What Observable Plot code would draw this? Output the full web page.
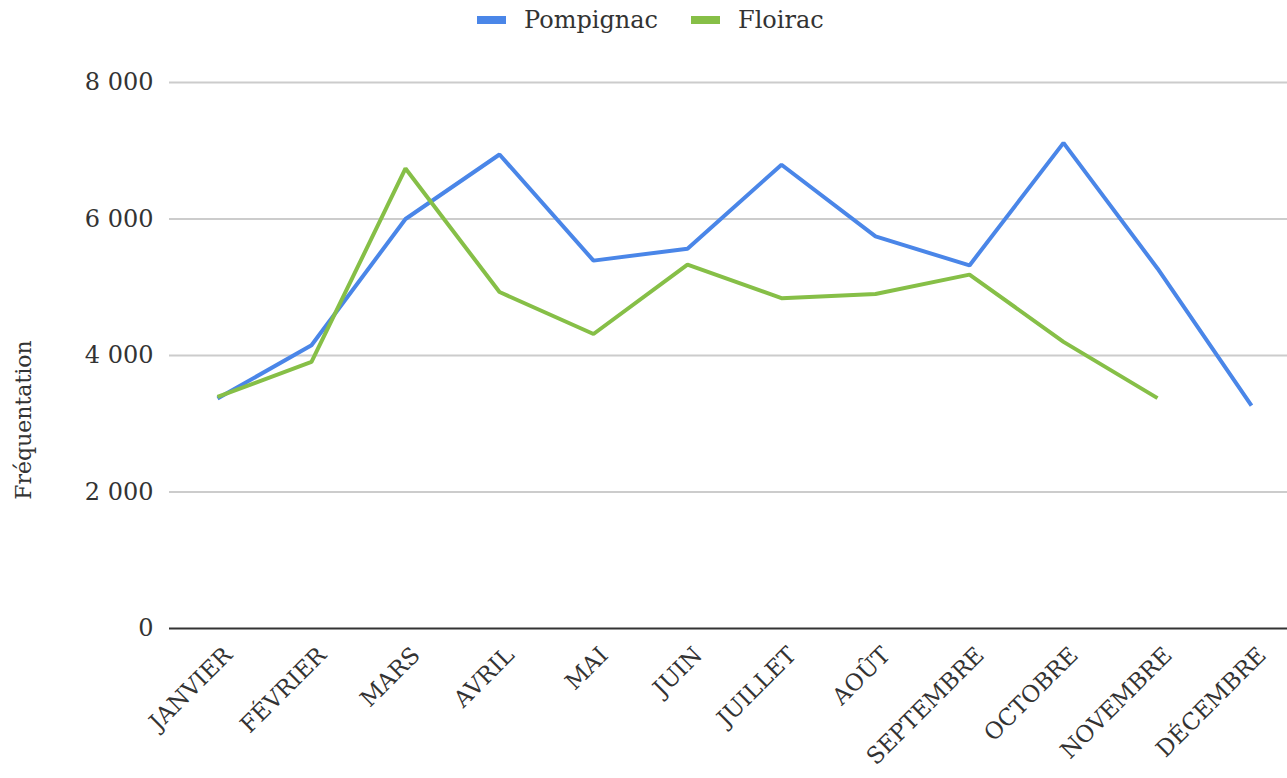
<!DOCTYPE html>
<html>
<head>
<meta charset="utf-8">
<script src="https://cdn.jsdelivr.net/npm/d3@7"></script>
<script src="https://cdn.jsdelivr.net/npm/@observablehq/plot@0.6"></script>
<style>
  html, body { margin: 0; padding: 0; background: #fff; }
  body { width: 1287px; height: 778px; overflow: hidden; font-family: "DejaVu Serif", serif; position: relative; }
  #legend { height: 40px; display: flex; align-items: center; justify-content: flex-start; padding-left: 477px; box-sizing: border-box; color: #333; font-size: 24px; }
  .item { display: flex; align-items: center; margin-right: 33px; }
  .sw { width: 29px; height: 8px; margin-right: 18px; }
  #ylabel { position: absolute; left: 23px; top: 420px; transform: translate(-50%, -50%) rotate(-90deg); font-size: 22px; color: #333; white-space: nowrap; }
  svg { font-variant-numeric: oldstyle-nums; }
</style>
</head>
<body>
<div id="legend"></div>
<div id="chart"></div>
<div id="ylabel"></div>
<script>
const months = ["JANVIER","FÉVRIER","MARS","AVRIL","MAI","JUIN","JUILLET","AOÛT","SEPTEMBRE","OCTOBRE","NOVEMBRE","DÉCEMBRE"];
const pompignac = [3370, 4150, 6000, 6945, 5390, 5565, 6795, 5745, 5320, 7115, 5275, 3265];
const floirac = [3395, 3905, 6740, 4930, 4315, 5330, 4840, 4900, 5185, 4200, 3375, null];
const seriesNames = ["Pompignac", "Floirac"];
const seriesColors = ["#4a86e8", "#86bf47"];
const yTicks = [0, 2000, 4000, 6000, 8000];
const yLabel = "Fréquentation";

const rows = [];
months.forEach((m, i) => {
  rows.push({month: m, series: seriesNames[0], value: pompignac[i]});
  if (floirac[i] != null) rows.push({month: m, series: seriesNames[1], value: floirac[i]});
});

const fmt = d => d3.format(",")(d).replace(/,/g, " ");

const legend = document.getElementById("legend");
seriesNames.forEach((s, i) => {
  const it = document.createElement("div");
  it.className = "item";
  it.innerHTML = `<span class="sw" style="background:${seriesColors[i]}"></span><span>${s}</span>`;
  legend.appendChild(it);
});
document.getElementById("ylabel").textContent = yLabel;

const chart = Plot.plot({
  width: 1287,
  height: 738,
  marginLeft: 169,
  marginRight: 0,
  marginTop: 42,
  marginBottom: 150,
  style: {fontFamily: "DejaVu Serif, serif", fontSize: "22px", color: "#333", background: "#fff"},
  x: {type: "point", domain: months, range: [212, 1255], padding: 0, axis: null},
  y: {domain: [0, 8000], axis: null},
  color: {domain: seriesNames, range: seriesColors},
  marks: [
    Plot.ruleY(yTicks.filter(d => d > 0), {stroke: "#cccccc", strokeWidth: 2}),
    Plot.ruleY([0], {stroke: "#333", strokeWidth: 2}),
    Plot.text(yTicks, {y: d => d, frameAnchor: "left", text: d => fmt(d), textAnchor: "end", dx: -16, fill: "#333", fontSize: 24}),
    Plot.text(months, {x: d => d, frameAnchor: "bottom", text: d => d, textAnchor: "end", rotate: -45, dx: 16, dy: 28, fill: "#333", fontSize: 23}),
    Plot.line(rows, {x: "month", y: "value", z: "series", stroke: "series", strokeWidth: 4, strokeLinejoin: "miter", strokeLinecap: "butt"})
  ]
});
document.getElementById("chart").appendChild(chart);
</script>
</body>
</html>
